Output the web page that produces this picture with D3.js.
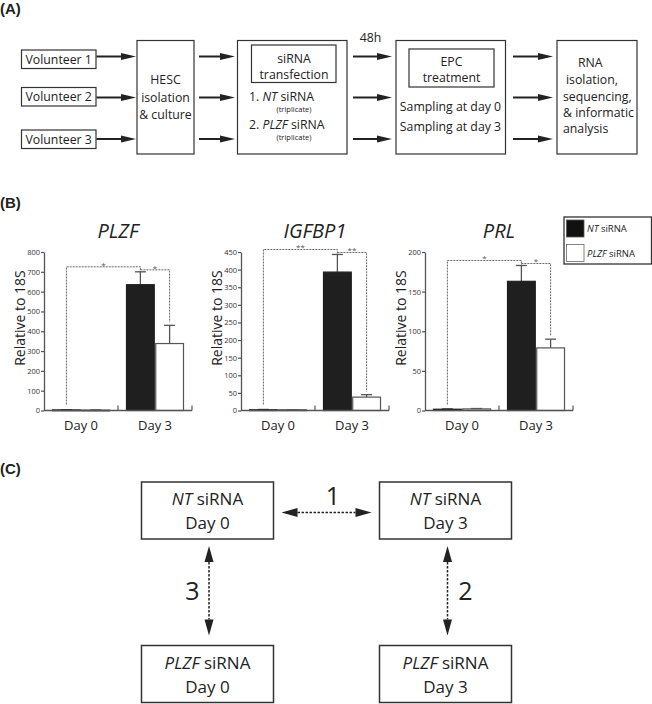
<!DOCTYPE html>
<html>
<head>
<meta charset="utf-8">
<script src="https://cdn.jsdelivr.net/npm/d3@7"></script>
<style>
  body { margin: 0; background: #fff; }
  svg { display: block; font-family: "Open Sans", sans-serif; }
</style>
</head>
<body>
<div id="chart"></div>
<script>
// bar chart data
const days = ["Day 0", "Day 3"];
const treatments = ["NT siRNA", "PLZF siRNA"];
const genes = ["PLZF", "IGFBP1", "PRL"];
// order: Day 0 NT, Day 0 PLZF, Day 3 NT, Day 3 PLZF
const plzfMeans = [3, 2, 635, 338];
const plzfErrors = [1, 1, 65, 92];
const igfbp1Means = [2, 2, 393, 38];
const igfbp1Errors = [1, 0.5, 50, 7];
const prlMeans = [1.6, 2, 163, 79];
const prlErrors = [0.5, 0.5, 20, 11];
const yMaxes = [800, 450, 200];
const yTickSteps = [100, 50, 50];
const stars = [["*", "*"], ["**", "**"], ["*", "*"]];

// flow chart / comparison text
const volunteers = ["Volunteer 1", "Volunteer 2", "Volunteer 3"];
const comparisons = ["1", "2", "3"];

const W = 652, H = 704;
const svg = d3.select("#chart").append("svg")
  .attr("width", W).attr("height", H);
svg.append("rect").attr("width", W).attr("height", H).attr("fill", "#fff");

const ink = "#222";

function panelLabel(txt, x, y) {
  svg.append("text").attr("x", x).attr("y", y)
    .attr("font-family", "Liberation Sans, Arial, sans-serif")
    .attr("font-weight", "bold").attr("font-size", 15)
    .attr("fill", ink).text(txt);
}

function box(x, y, w, h, sw) {
  svg.append("rect").attr("x", x).attr("y", y).attr("width", w).attr("height", h)
    .attr("fill", "none").attr("stroke", "#333").attr("stroke-width", sw || 1.2);
}

function label(x, y, txt, size, anchor) {
  return svg.append("text").attr("x", x).attr("y", y)
    .attr("font-size", size || 12).attr("fill", ink)
    .attr("text-anchor", anchor || "middle").text(txt);
}

// solid arrow for panel A
function arrow(x1, x2, y) {
  svg.append("line").attr("x1", x1).attr("x2", x2 - 12).attr("y1", y).attr("y2", y)
    .attr("stroke", ink).attr("stroke-width", 2);
  svg.append("path")
    .attr("d", `M${x2},${y} L${x2 - 15},${y - 3.5} L${x2 - 15},${y + 3.5} Z`)
    .attr("fill", ink);
}

// ---------------- (A) ----------------
panelLabel("(A)", 0, 14);
const rowY = [56.5, 97.5, 139];

volunteers.forEach((v, i) => {
  const top = [50, 87.5, 130][i];
  box(21.5, top, 74.5, 18.5);
  label(58.7, top + 13.8, v, 12.3);
});

box(137, 40.5, 57, 113.5);
label(165.5, 84, "HESC", 12.3);
label(165.5, 102, "isolation", 12.3);
label(165.5, 119, "& culture", 12.3);

box(237.5, 40.5, 109.5, 113.5);
box(251.5, 45, 84.5, 37.5);
label(294, 62.5, "siRNA", 12.3);
label(294, 78.5, "transfection", 12.3);
const l1 = label(249, 101, "1. ", 12.3, "start");
l1.append("tspan").attr("font-style", "italic").text("NT");
l1.append("tspan").text(" siRNA");
label(294, 112, "(triplicate)", 7.5);
const l2 = label(249, 129, "2. ", 12.3, "start");
l2.append("tspan").attr("font-style", "italic").text("PLZF");
l2.append("tspan").text(" siRNA");
label(294, 140, "(triplicate)", 7.5);

label(370.5, 41.5, "48h", 12.3);

box(396, 40.5, 109.5, 113.5);
box(409, 49, 85, 38);
label(451.5, 65.5, "EPC", 12.3);
label(451.5, 82, "treatment", 12.3);
label(450.5, 111, "Sampling at day 0", 12.3);
label(450.5, 131, "Sampling at day 3", 12.3);

box(557, 40.5, 80, 113.5);
[["RNA", 578, 67], ["isolation,", 566, 84], ["sequencing,", 563, 100.5],
 ["& informatic", 563, 117], ["analysis", 563, 133]].forEach(d => label(d[1], d[2], d[0], 12.3, "start"));

rowY.forEach(y => {
  arrow(96.5, 136, y);
  arrow(199, 235, y);
  arrow(353, 392, y);
  arrow(513, 553, y);
});

// ---------------- (B) ----------------
panelLabel("(B)", 0, 208);

const means = [plzfMeans, igfbp1Means, prlMeans];
const errors = [plzfErrors, igfbp1Errors, prlErrors];
const lefts = [44, 241, 425];
const chartW = 148, yTop = 252, yBase = 410.5;
const axisGrey = "#555";

genes.forEach((gene, gi) => {
  const left = lefts[gi];
  const g = svg.append("g");
  const x0 = d3.scaleBand().domain(days).range([left, left + chartW]);
  const x1 = d3.scaleBand().domain(treatments)
    .range([8.5, x0.bandwidth() - 8.5]).paddingInner(0.05);
  const y = d3.scaleLinear().domain([0, yMaxes[gi]]).range([yBase, yTop]);

  const rows = days.flatMap((d, i) => treatments.map((t, j) => ({
    day: d, t: t, v: means[gi][i * 2 + j], e: errors[gi][i * 2 + j]
  })));
  const cx = d => x0(d.day) + x1(d.t) + x1.bandwidth() / 2;

  // title
  g.append("text").attr("x", left + chartW / 2).attr("y", 238)
    .attr("text-anchor", "middle").attr("font-size", 20)
    .attr("font-style", "italic").attr("fill", ink).text(gene);

  // y axis label
  g.append("text")
    .attr("transform", `translate(${left - 19},318) rotate(-90)`)
    .attr("text-anchor", "middle").attr("font-size", 14).attr("fill", ink)
    .text("Relative to 18S");

  // error bars
  g.selectAll(".err").data(rows).join("g").each(function (d) {
    const e = d3.select(this);
    e.append("line").attr("x1", cx(d)).attr("x2", cx(d))
      .attr("y1", y(d.v)).attr("y2", y(d.v + d.e))
      .attr("stroke", axisGrey).attr("stroke-width", 1.3);
    e.append("line").attr("x1", cx(d) - 5.5).attr("x2", cx(d) + 5.5)
      .attr("y1", y(d.v + d.e)).attr("y2", y(d.v + d.e))
      .attr("stroke", axisGrey).attr("stroke-width", 1.3);
  });

  // bars
  g.selectAll(".bar").data(rows).join("rect")
    .attr("x", d => x0(d.day) + x1(d.t))
    .attr("y", d => y(d.v))
    .attr("width", x1.bandwidth())
    .attr("height", d => Math.max(0.8, yBase - y(d.v)))
    .attr("fill", d => d.t === treatments[0] ? "#1f1f1f" : "#fff")
    .attr("stroke", d => d.t === treatments[0] ? "#1f1f1f" : axisGrey)
    .attr("stroke-width", 1.2);

  // y axis
  const ya = g.append("g").attr("transform", `translate(${left},0)`)
    .call(d3.axisLeft(y).tickValues(d3.range(0, yMaxes[gi] + 1, yTickSteps[gi]))
      .tickSize(3).tickSizeOuter(0).tickPadding(1));
  ya.select(".domain").attr("stroke", axisGrey).attr("stroke-width", 1.3);
  ya.selectAll(".tick line").attr("stroke", axisGrey).attr("stroke-width", 1.2);
  ya.selectAll(".tick text").attr("font-size", 7.5).attr("fill", "#333")
    .attr("font-family", "Open Sans, sans-serif");

  // x baseline with ticks at group boundaries
  g.append("line").attr("x1", left).attr("x2", left + chartW)
    .attr("y1", yBase).attr("y2", yBase)
    .attr("stroke", axisGrey).attr("stroke-width", 1.3);
  [x0(days[1]), left + chartW].forEach(tx => {
    g.append("line").attr("x1", tx).attr("x2", tx)
      .attr("y1", yBase).attr("y2", yBase - 5)
      .attr("stroke", axisGrey).attr("stroke-width", 1.2);
  });
  const xa = g.append("g").attr("transform", `translate(0,${yBase})`)
    .call(d3.axisBottom(x0).tickSize(0).tickPadding(10));
  xa.select(".domain").remove();
  xa.selectAll(".tick text").attr("font-size", 13).attr("fill", ink)
    .attr("font-family", "Open Sans, sans-serif");

  // significance brackets
  const ntDay0 = rows[0], ntDay3 = rows[2], plDay3 = rows[3];
  const top3 = y(ntDay3.v + ntDay3.e);
  const lev1 = top3 - 5, lev2 = top3 - 2;
  const dashed = p => g.append("path").attr("d", p).attr("fill", "none")
    .attr("stroke", "#666").attr("stroke-width", 1).attr("stroke-dasharray", "2,1");
  dashed(`M${cx(ntDay0)},${yBase - 6} V${lev1} H${cx(ntDay3)} V${top3}`);
  dashed(`M${cx(ntDay3)},${lev2} H${cx(plDay3)} V${y(plDay3.v + plDay3.e) - 3}`);
  g.append("text").attr("x", (cx(ntDay0) + cx(ntDay3)) / 2).attr("y", lev1 + 1)
    .attr("text-anchor", "middle").attr("font-size", 8).attr("fill", "#555")
    .text(stars[gi][0]);
  g.append("text").attr("x", (cx(ntDay3) + cx(plDay3)) / 2).attr("y", lev2 + 1)
    .attr("text-anchor", "middle").attr("font-size", 8).attr("fill", "#555")
    .text(stars[gi][1]);
});

// legend
box(564, 217, 87.5, 47, 1.3);
svg.append("rect").attr("x", 566.5).attr("y", 220).attr("width", 17.5).attr("height", 17)
  .attr("fill", "#111").attr("stroke", "#555").attr("stroke-width", 0.8);
svg.append("rect").attr("x", 566.5).attr("y", 244.5).attr("width", 17.5).attr("height", 17)
  .attr("fill", "#fff").attr("stroke", "#666").attr("stroke-width", 0.8);
treatments.forEach((t, i) => {
  const parts = t.split(" ");
  const tx = label(587, [231.5, 256.5][i], "", 9.5, "start");
  tx.append("tspan").attr("font-style", "italic").text(parts[0]);
  tx.append("tspan").text(" " + parts[1]);
});

// ---------------- (C) ----------------
panelLabel("(C)", 0, 474);

const boxesC = [
  ["NT", "Day 0", 141.5, 482], ["NT", "Day 3", 379.5, 482],
  ["PLZF", "Day 0", 141.5, 645.5], ["PLZF", "Day 3", 379.5, 645.5]
];
boxesC.forEach(b => {
  box(b[2], b[3], 132, 57, 1.5);
  const t = label(b[2] + 66, b[3] + 23, "", 17);
  t.append("tspan").attr("font-style", "italic").text(b[0]);
  t.append("tspan").text(" siRNA");
  label(b[2] + 66, b[3] + 47, b[1], 17);
});

function dashArrow(x1, y1, x2, y2) {
  const len = Math.hypot(x2 - x1, y2 - y1);
  const ux = (x2 - x1) / len, uy = (y2 - y1) / len;
  const hl = 16, hw = 4.5;
  svg.append("line")
    .attr("x1", x1 + ux * hl).attr("y1", y1 + uy * hl)
    .attr("x2", x2 - ux * hl).attr("y2", y2 - uy * hl)
    .attr("stroke", ink).attr("stroke-width", 1.5).attr("stroke-dasharray", "2.5,1.5");
  [[x1, y1, 1], [x2, y2, -1]].forEach(([px, py, s]) => {
    const bx = px + s * ux * hl, by = py + s * uy * hl;
    svg.append("path")
      .attr("d", `M${px},${py} L${bx - uy * hw},${by + ux * hw} L${bx + uy * hw},${by - ux * hw} Z`)
      .attr("fill", ink);
  });
}

dashArrow(281.5, 512.5, 371.5, 512.5);
dashArrow(447.5, 546, 447.5, 635.5);
dashArrow(209, 546, 209, 635.5);
label(333, 505, comparisons[0], 25);
label(465.5, 600, comparisons[1], 25);
label(192.5, 600, comparisons[2], 25);
</script>
</body>
</html>
